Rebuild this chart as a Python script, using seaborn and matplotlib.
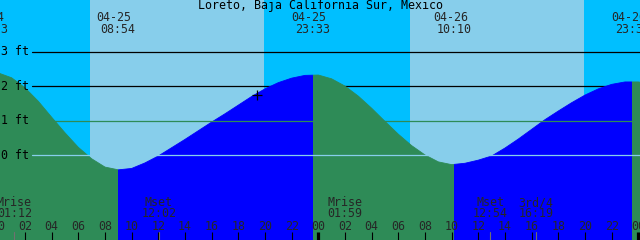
import matplotlib
matplotlib.use("Agg")
import matplotlib.pyplot as plt
import seaborn as sns
import pandas as pd
from matplotlib.patches import Rectangle

# ---------------- data ----------------
hours = list(range(0, 50))
tide_ft = [2.38, 2.24, 1.95, 1.56, 1.10, 0.65, 0.23, -0.10, -0.34, -0.42,
           -0.38, -0.22, -0.02, 0.22, 0.46, 0.71, 0.96, 1.20, 1.45, 1.70,
           1.92, 2.10, 2.23, 2.31, 2.32, 2.21, 2.00, 1.71, 1.36, 0.98,
           0.61, 0.28, 0.01, -0.19, -0.27, -0.23, -0.14, -0.02, 0.21, 0.47,
           0.75, 1.03, 1.28, 1.52, 1.74, 1.92, 2.05, 2.12, 2.12, 2.06]

extreme_hours = [-0.6, 8.97, 23.6, 34.2, 47.55]
extreme_dates = ["04-24", "04-25", "04-25", "04-26", "04-26"]
extreme_times = ["23:23", "08:54", "23:33", "10:10", "23:35"]

sunrise_hours = [6.875, 30.88]
sunset_hours = [19.93, 43.93]

moon_hours = [1.2, 12.033, 25.983, 36.9, 40.317]
moon_names = ["Mrise", "Mset", "Mrise", "Mset", "3rd/4"]
moon_times = ["01:12", "12:02", "01:59", "12:54", "16:19"]

depth_levels = [0, 1, 2, 3]
depth_labels = ["0 ft", "1 ft", "2 ft", "3 ft"]

hour_ticks = list(range(0, 49, 2))
hour_labels = ["%02d" % (h % 24) for h in hour_ticks]

marker_hour = 19.4
marker_ft = 1.75

title = "Loreto, Baja California Sur, Mexico"

# ---------------- style ----------------
sns.set_style("white")
plt.rcParams["font.family"] = ["DejaVu Sans Mono", "DejaVu Sans"]

NIGHT = "#00BFFF"
DAY = "#87CEEB"
FALL = "#2E8B57"
RISE = "#0000FF"

X0 = 0.125
X1 = X0 + 640 / 13.333
PX_PER_FT = 34.6
Y_ZERO_PX = 155.3
Y_TOP = Y_ZERO_PX / PX_PER_FT
Y_BOT = -(240 - Y_ZERO_PX) / PX_PER_FT


def ft_at(px):
    return (Y_ZERO_PX - px) / PX_PER_FT


fig = plt.figure(figsize=(6.4, 2.4), dpi=100)
ax = fig.add_axes([0, 0, 1, 1])
ax.set_facecolor(NIGHT)
for s in ax.spines.values():
    s.set_visible(False)
ax.set_xlim(X0, X1)
ax.set_ylim(Y_BOT, Y_TOP)

# daylight
for a, b in zip(sunrise_hours, sunset_hours):
    ax.axvspan(a, b, color=DAY, lw=0, zorder=0)

# black depth lines (behind water)
x_line_start = (32 + 1.667) / 13.333
for lvl in depth_levels:
    if lvl >= 2:
        ax.plot([x_line_start, X1], [lvl, lvl], color="black", lw=0.9, zorder=1)

# water fill, coloured by falling/rising
df = pd.DataFrame({"hour": hours, "ft": tide_ft})
bounds = [-5] + extreme_hours[1:] + [60]
colors = [FALL, RISE, FALL, RISE, FALL]
for i, c in enumerate(colors):
    a, b = bounds[i], bounds[i + 1]
    poly = ax.fill_between(df["hour"], df["ft"], Y_BOT - 1, color=c, lw=0,
                           zorder=2)
    poly.set_clip_path(Rectangle((a, Y_BOT - 1), b - a, 20,
                                 transform=ax.transData))
    sns.lineplot(data=df, x="hour", y="ft", color=c, lw=0.6, ax=ax,
                 zorder=2)
    ax.lines[-1].set_clip_path(Rectangle((a, Y_BOT - 1), b - a, 20,
                                         transform=ax.transData))

# coloured datum / mean lines on top
ax.plot([x_line_start, X1], [1, 1], color=FALL, lw=0.9, zorder=3)
ax.plot([x_line_start, X1], [0, 0], color=DAY, lw=0.9, zorder=3)

ax.set_xlim(X0, X1)
ax.set_ylim(Y_BOT, Y_TOP)
ax.set_xticks([])
ax.set_yticks([])
ax.set_xlabel("")
ax.set_ylabel("")

FS = 8.4
xt = ax.get_xaxis_transform()

# depth labels
for lvl, lab in zip(depth_levels, depth_labels):
    ax.text(1 / 640, lvl, lab, transform=ax.get_yaxis_transform(),
            ha="left", va="center", fontsize=FS, color="black", zorder=5)

# title
ax.text(0.5, 1 - 6 / 240, title, transform=ax.transAxes, ha="center",
        va="center", fontsize=FS, color="black", zorder=5)

# extreme labels
for h, d, t in zip(extreme_hours, extreme_dates, extreme_times):
    ax.text(h - 0.3, 1 - 17.5 / 240, d, transform=xt, ha="center",
            va="center", fontsize=FS, zorder=5, clip_on=False)
    ax.text(h, 1 - 29.5 / 240, t, transform=xt, ha="center",
            va="center", fontsize=FS, zorder=5, clip_on=False)

# moon events
for h, n, t in zip(moon_hours, moon_names, moon_times):
    ax.text(h, 1 - 202.5 / 240, n, transform=xt, ha="center", va="center",
            fontsize=FS, zorder=5)
    ax.text(h, 1 - 213.5 / 240, t, transform=xt, ha="center", va="center",
            fontsize=FS, zorder=5)
    ax.plot([h, h], [ft_at(232), Y_BOT], color="#707070", lw=0.8, zorder=4)

# hour ticks and labels
for h, lab in zip(hour_ticks, hour_labels):
    ax.text(h, 1 - 226 / 240, lab, transform=xt, ha="center", va="center",
            fontsize=FS, zorder=5)
    if h % 24 == 0:
        ax.plot([h, h], [ft_at(232), Y_BOT], color="black", lw=2.3,
                zorder=4, solid_capstyle="butt")
    else:
        ax.plot([h, h], [ft_at(232), Y_BOT], color="black", lw=0.8,
                zorder=4, solid_capstyle="butt")

# current-time marker
ax.plot([marker_hour], [marker_ft], marker="+", color="black",
        markersize=6.5, mew=0.9, zorder=6)

ax.set_xlim(X0, X1)
ax.set_ylim(Y_BOT, Y_TOP)
fig.savefig("out.png", dpi=100, facecolor=NIGHT)
